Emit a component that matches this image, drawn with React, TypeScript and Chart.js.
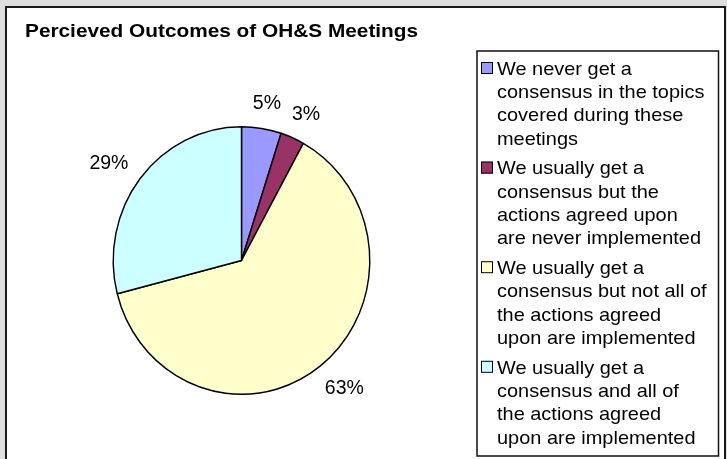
import React, { useEffect, useRef } from "react";
import { Chart, registerables } from "chart.js";

Chart.register(...registerables);

const chartTitle = "Percieved Outcomes of OH&S Meetings";
const categories = [
  "We never get a consensus in the topics covered during these meetings",
  "We usually get a consensus but the actions agreed upon are never implemented",
  "We usually get a consensus but not all of the actions agreed upon are implemented",
  "We usually get a consensus and all of the actions agreed upon are implemented",
];
const legendLines = [
  ["We never get a", "consensus in the topics", "covered during these", "meetings"],
  ["We usually get a", "consensus but the", "actions agreed upon", "are never implemented"],
  ["We usually get a", "consensus but not all of", "the actions agreed", "upon are implemented"],
  ["We usually get a", "consensus and all of", "the actions agreed", "upon are implemented"],
];
const values = [5, 3, 63, 29];
const sliceColors = ["#9999FF", "#993366", "#FFFFCC", "#CCFFFF"];

const FONT = '"Liberation Sans", Arial, sans-serif';
const KX = 129 / 134.5;

function drawText(ctx: CanvasRenderingContext2D, text: string, x: number, baseline: number, font: string, sx: number, align: CanvasTextAlign = "left") {
  ctx.save();
  ctx.font = font;
  ctx.fillStyle = "#000";
  ctx.textAlign = align;
  ctx.textBaseline = "alphabetic";
  ctx.translate(x, baseline);
  ctx.scale(sx, 1);
  ctx.fillText(text, 0, 0);
  ctx.restore();
}

const customPlugin = {
  id: "customPlugin",
  beforeDraw(chart: any) {
    const ctx: CanvasRenderingContext2D = chart.ctx;
    ctx.save();
    ctx.fillStyle = "#dedede";
    ctx.fillRect(0, 0, chart.width, chart.height);
    ctx.fillStyle = "#ffffff";
    ctx.fillRect(6, 7, 719, 470);
    ctx.strokeStyle = "#1a1a1a";
    ctx.lineWidth = 2;
    ctx.strokeRect(6, 7, 719, 470);
    ctx.restore();
  },
  beforeDatasetsDraw(chart: any) {
    const ctx: CanvasRenderingContext2D = chart.ctx;
    const arc = chart.getDatasetMeta(0).data[0];
    ctx.save();
    ctx.translate(arc.x, arc.y);
    ctx.scale(KX, 1);
    ctx.translate(-arc.x, -arc.y);
  },
  afterDatasetsDraw(chart: any) {
    const ctx: CanvasRenderingContext2D = chart.ctx;
    ctx.restore();

    // data labels
    const meta = chart.getDatasetMeta(0);
    const labelSize = 19.5;
    const labelFont = `${labelSize}px ${FONT}`;
    const capH = labelSize * 0.716;
    const d = 20;
    meta.data.forEach((arc: any, i: number) => {
      const p = arc.getProps(["x", "y", "startAngle", "endAngle", "outerRadius"], true);
      const mid = (p.startAngle + p.endAngle) / 2;
      const c = Math.cos(mid);
      const s = Math.sin(mid);
      const text = `${values[i]}%`;
      ctx.save();
      ctx.font = labelFont;
      const w = ctx.measureText(text).width;
      ctx.restore();
      const ax = p.x + (p.outerRadius * KX + d) * c;
      const ay = p.y + (p.outerRadius + d) * s;
      const cx = ax + (w / 2) * c;
      const cy = ay + (capH / 2) * s;
      drawText(ctx, text, cx, cy + capH / 2, labelFont, 1, "center");
    });

    // legend box
    ctx.save();
    ctx.strokeStyle = "#111";
    ctx.lineWidth = 1.5;
    ctx.strokeRect(477, 51, 241.5, 405);
    ctx.restore();

    const legSize = 19;
    const legFont = `${legSize}px ${FONT}`;
    const legCap = legSize * 0.716;
    const lineH = 23.3;
    const itemGap = 6.4;
    let y = 68;
    legendLines.forEach((lines, i) => {
      ctx.save();
      ctx.fillStyle = sliceColors[i];
      ctx.fillRect(481, y - 6, 12, 12);
      ctx.strokeStyle = "#000";
      ctx.lineWidth = 1;
      ctx.strokeRect(481.5, y - 5.5, 11, 11);
      ctx.restore();
      lines.forEach((ln, j) => {
        drawText(ctx, ln, 497, y + j * lineH + legCap / 2, legFont, 1.05);
      });
      y += lines.length * lineH + itemGap;
    });

    // title
    drawText(ctx, chartTitle, 25, 36.5, `bold 19px ${FONT}`, 1.095);
  },
};

export default function App() {
  const canvasRef = useRef<HTMLCanvasElement | null>(null);

  useEffect(() => {
    const canvas = canvasRef.current;
    if (!canvas) return;
    const chart = new Chart(canvas, {
      type: "pie",
      data: {
        labels: categories,
        datasets: [
          {
            data: values,
            backgroundColor: sliceColors,
            borderColor: "#000000",
            borderWidth: 1.5,
          },
        ],
      },
      options: {
        responsive: false,
        animation: false,
        devicePixelRatio: 1,
        layout: { padding: { left: 107, right: 351, top: 126, bottom: 64 } },
        plugins: {
          legend: { display: false },
          title: { display: false },
          tooltip: { enabled: false },
        },
      },
      plugins: [customPlugin],
    });
    return () => chart.destroy();
  }, []);

  return (
    <div style={{ position: "fixed", left: 0, top: 0, width: 727, height: 459, overflow: "hidden" }}>
      <canvas ref={canvasRef} width={727} height={459} style={{ display: "block" }} />
    </div>
  );
}
